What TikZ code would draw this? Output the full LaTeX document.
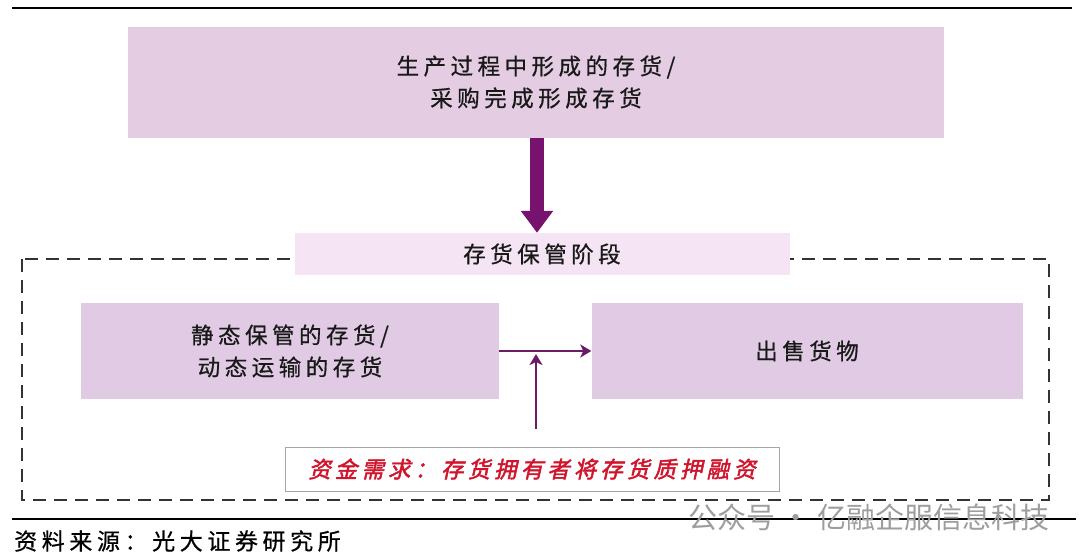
\documentclass[tikz,border=0pt]{standalone}
\usepackage{fontspec}
\newfontfamily\cjk[LetterSpace=20,FakeBold=0.6]{Noto Sans CJK SC}
\newfontfamily\cjkred[LetterSpace=18,FakeSlant=0.22,FakeBold=2]{Noto Sans CJK SC}
\newfontfamily\cjkmark{Noto Sans CJK SC}
\usetikzlibrary{arrows.meta,positioning}
\definecolor{topfill}{HTML}{E4CCE2}
\definecolor{boxfill}{HTML}{E0CAE4}
\definecolor{stagefill}{HTML}{F4E4F4}
\definecolor{darkpurple}{HTML}{78126F}
\definecolor{linepurple}{HTML}{6A1C66}
\definecolor{fundred}{HTML}{D0142C}

\begin{document}
\begin{tikzpicture}[x=1pt, y=-1pt,
    box/.style={fill=boxfill, inner sep=0pt, align=center, text=black!90,
                font=\fontsize{22.5}{32}\selectfont\cjk},
    stagebox/.style={fill=stagefill, inner sep=0pt, minimum width=495pt,
                     minimum height=42pt, text=black!90,
                     font=\fontsize{22.5}{26}\selectfont\cjk},
    fundbox/.style={draw=black!35, line width=0.8pt, fill=white, inner sep=0pt,
                    minimum width=494pt, minimum height=44pt, text=fundred,
                    font=\fontsize{22.5}{26}\selectfont\cjkred},
    bigarr/.style={-{Triangle[length=22pt, width=31pt]}, line width=14pt,
                   darkpurple},
    arr/.style={-{Stealth[length=11pt, width=13pt, inset=3pt]}, line width=2.8pt,
                linepurple},
    rule/.style={line width=1.6pt, black}
]
\useasboundingbox (0,0) rectangle (1080,557);

% Rules top and bottom
\coordinate (ruleTL) at (12,8);
\coordinate (ruleTR) at (1072,8);
\coordinate (ruleBL) at (12,519);
\coordinate (ruleBR) at (1076,519);
\draw[rule] (ruleTL) -- (ruleTR);
\draw[rule] (ruleBL) -- (ruleBR);

% Dashed frame of the storage stage
\draw[black!80, line width=1.5pt, dash pattern=on 13pt off 8pt]
    (22,259) rectangle (1049,500);

% Boxes
\node[box, fill=topfill, minimum width=816pt, minimum height=111pt] (produce)
    at (536,82) {生产过程中形成的存货/\\采购完成形成存货};
\node[stagebox] (stage) at (542,254) {存货保管阶段};
\node[box, minimum width=418pt, minimum height=96pt] (keep)
    at (290,351) {静态保管的存货/\\动态运输的存货};
\node[box, minimum width=431pt, minimum height=96pt] (sell)
    at (807,351) {出售货物};
\node[fundbox] (fund) at (532,469) {资金需求：存货拥有者将存货质押融资};

% Arrows
\draw[bigarr] (produce.south -| 537,0) -- (stage.north -| 537,0);
\draw[arr] (keep.east) -- (sell.west);
\coordinate (meet) at (536,354);
\draw[arr, shorten <=18pt] (fund.north -| meet) -- (meet);

% Source and mark
\node[anchor=west, inner sep=0pt, text=black,
      font=\fontsize{23}{26}\selectfont\cjk] (source) at (14,541)
    {资料来源：光大证券研究所};
\node[anchor=west, inner sep=0pt, text=black!38,
      font=\fontsize{29}{32}\selectfont\cjkmark] (mark) at (688,517)
    {公众号 · 亿融企服信息科技};

\end{tikzpicture}
\end{document}
